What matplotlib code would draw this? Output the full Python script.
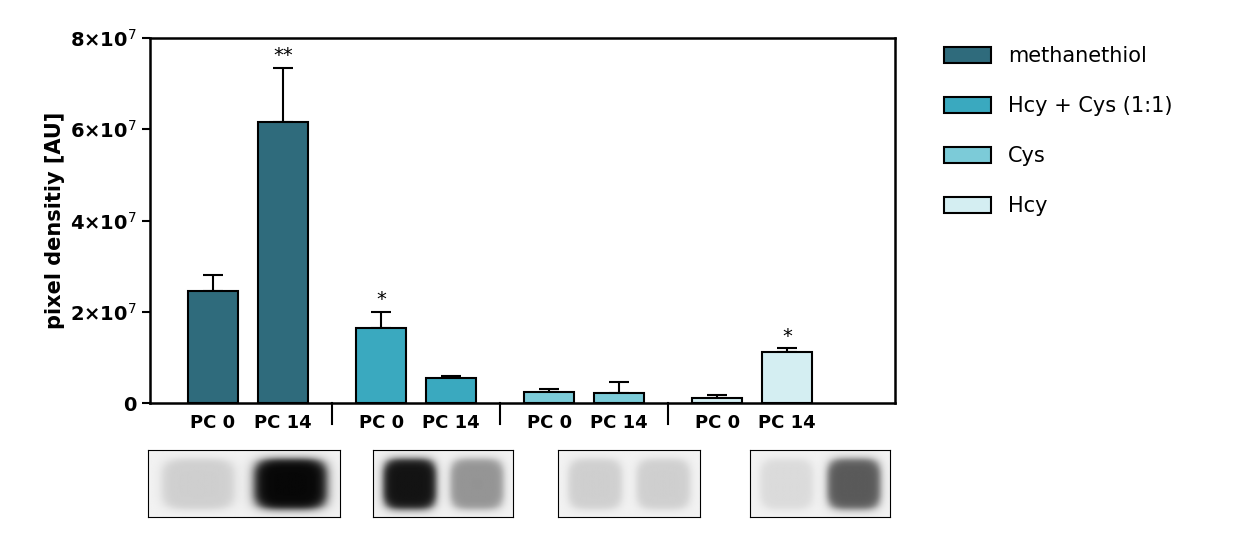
import matplotlib.pyplot as plt
import numpy as np

series = ["methanethiol", "Hcy + Cys (1:1)", "Cys", "Hcy"]
colors = ["#2f6b7c", "#3aa9bf", "#7ccbd8", "#d4eef2"]
labels = ["PC 0", "PC 14"]
means = [[2.45e7, 6.15e7], [1.65e7, 0.55e7], [0.25e7, 0.22e7], [0.10e7, 1.12e7]]
errs = [[0.35e7, 1.2e7], [0.35e7, 0.05e7], [0.05e7, 0.23e7], [0.08e7, 0.08e7]]
stars = [["", "**"], ["*", ""], ["", ""], ["", "*"]]
# blot darkness per lane (0 = none, 1 = black)
blot = [[0.15, 1.0], [0.95, 0.4], [0.15, 0.15], [0.1, 0.65]]

fig = plt.figure(figsize=(12.45, 5.35), dpi=100)
ax = fig.add_axes([0.1205, 0.2467, 0.5984, 0.6823])

pos = []
for g in range(4):
    for j in range(2):
        x = g * 2.4 + j
        pos.append(x)
        ax.bar(x, means[g][j], 0.71, color=colors[g], edgecolor="black", linewidth=1.5,
               label=series[g] if j == 0 else None, zorder=2)
        ax.errorbar(x, means[g][j], yerr=[[0], [errs[g][j]]], color="black", capsize=7,
                    elinewidth=1.5, capthick=1.5, zorder=1)
        if stars[g][j]:
            ax.text(x, means[g][j] + errs[g][j] + 0.05e7, stars[g][j], ha="center", va="bottom", fontsize=14)

ax.set_xlim(-0.9, 9.74)
ax.set_ylim(0, 8e7)
ax.set_yticks([0, 2e7, 4e7, 6e7, 8e7])
ax.set_yticklabels(["0", r"2×10$^7$", r"4×10$^7$", r"6×10$^7$", r"8×10$^7$"], fontsize=14, fontweight="bold")
ax.set_xticks(pos)
ax.set_xticklabels(labels * 4, fontsize=13, fontweight="bold")
ax.tick_params(axis="x", length=0, pad=8)
ax.tick_params(axis="y", width=1.5, length=6)
for s in ax.spines.values():
    s.set_linewidth(1.8)
ax.set_ylabel("pixel densitiy [AU]", fontsize=15, fontweight="bold")
for xs in [1.7, 4.1, 6.5]:
    ax.plot([xs, xs], [0, -0.45e7], color="black", lw=1.5, clip_on=False)

ax.legend(loc="upper left", bbox_to_anchor=(1.04, 1.03), frameon=False, fontsize=15,
          handlelength=2.3, handleheight=0.8, labelspacing=1.45)

# blot strips below the chart
yy, xx = np.mgrid[0:60, 0:200]
boxes = [(148, 340), (373, 513), (558, 700), (750, 890)]
for g, (x0, x1) in enumerate(boxes):
    bax = fig.add_axes([x0 / 1245, 1 - 517 / 535, (x1 - x0) / 1245, 67 / 535])
    img = np.full(xx.shape, 0.95)
    for j, cx in enumerate([52, 148]):
        d = ((np.abs(xx - cx) / 40) ** 4 + (np.abs(yy - 30) / 24) ** 4) ** 0.25
        img -= blot[g][j] * 0.92 / (1 + np.exp((d - 0.95) / 0.08))
    bax.imshow(np.clip(img, 0, 1), cmap="gray", vmin=0, vmax=1, aspect="auto")
    bax.set_xticks([])
    bax.set_yticks([])

fig.savefig("out.png", dpi=100)
